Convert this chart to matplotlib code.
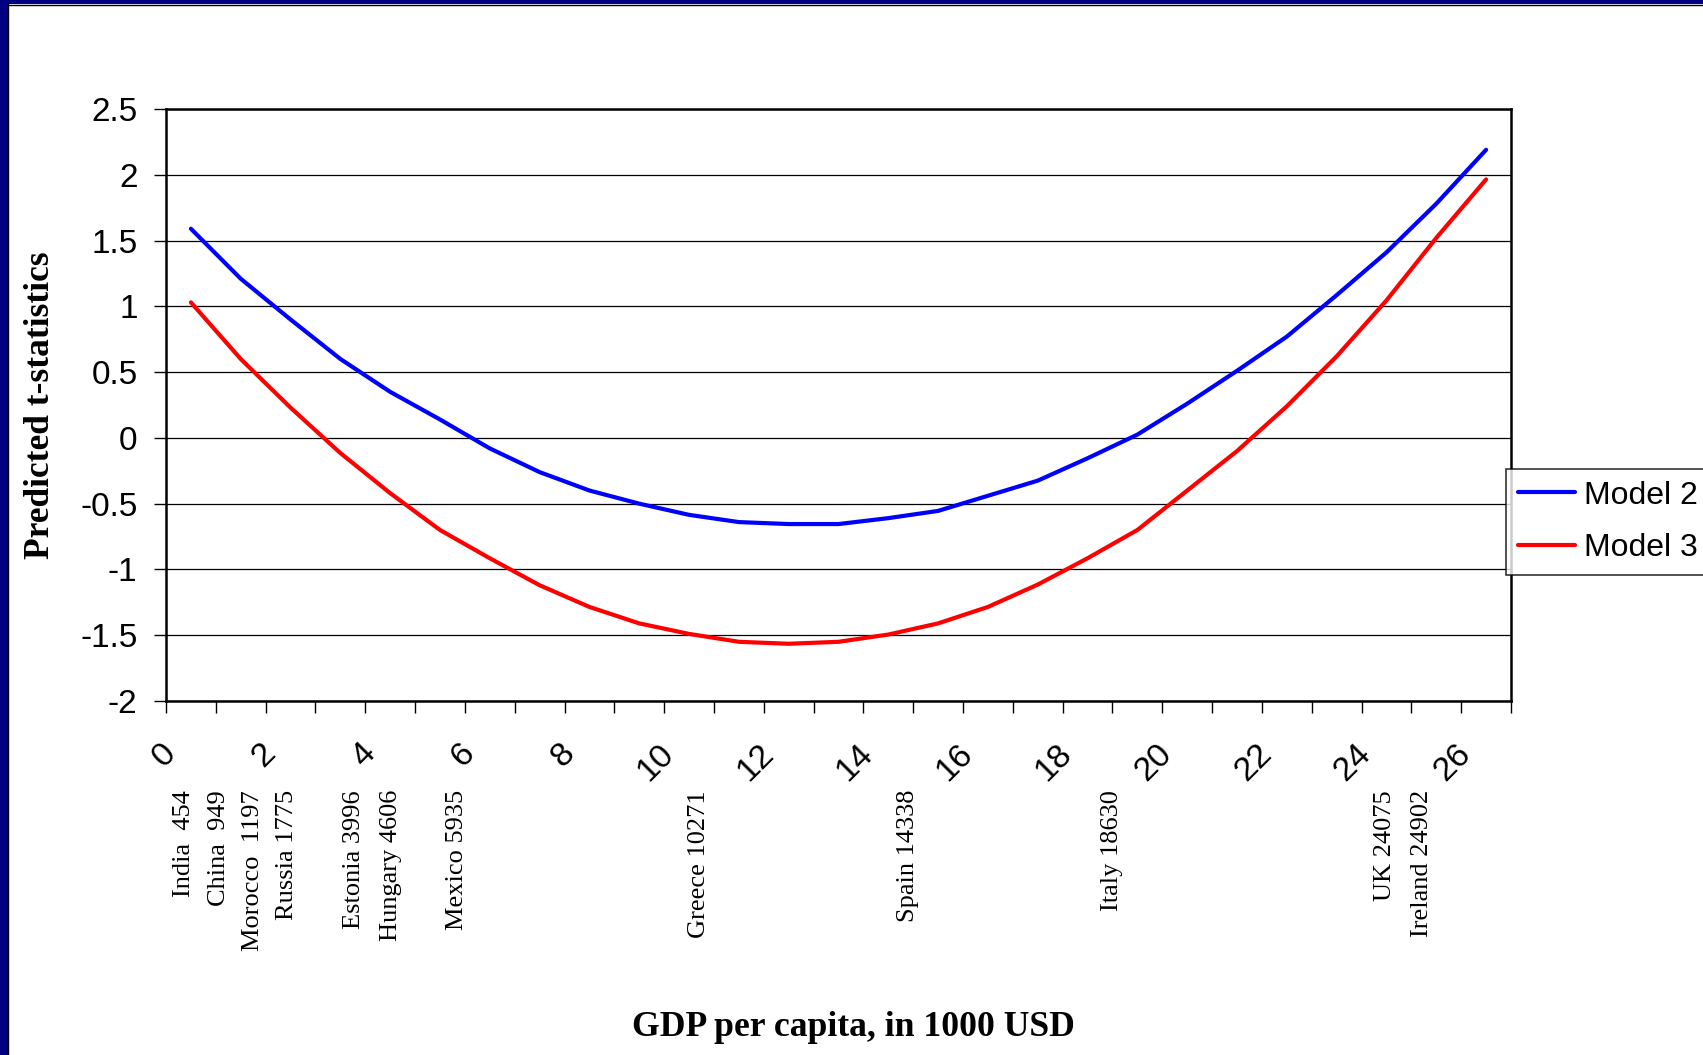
import matplotlib
matplotlib.use("Agg")
import matplotlib.pyplot as plt
from matplotlib.patches import Rectangle
from matplotlib.lines import Line2D
from matplotlib.transforms import ScaledTranslation, blended_transform_factory

plt.rcParams["axes.unicode_minus"] = False

# ---------------- data ----------------
gdp_thousands = list(range(27))  # category axis: GDP per capita, 1000 USD
model2 = [1.59, 1.21, 0.90, 0.60, 0.35, 0.14, -0.08, -0.26, -0.40, -0.50,
          -0.585, -0.64, -0.655, -0.655, -0.61, -0.555, -0.44, -0.325, -0.155, 0.025,
          0.26, 0.51, 0.77, 1.085, 1.41, 1.78, 2.19]
model3 = [1.03, 0.60, 0.23, -0.115, -0.42, -0.70, -0.915, -1.12, -1.285, -1.41,
          -1.49, -1.55, -1.565, -1.55, -1.495, -1.41, -1.285, -1.115, -0.915, -0.70,
          -0.40, -0.10, 0.24, 0.62, 1.045, 1.52, 1.965]
series_names = ["Model 2", "Model 3"]

x_label_positions = list(range(0, 27, 2))
x_tick_labels = [str(v) for v in x_label_positions]
y_ticks = [-2, -1.5, -1, -0.5, 0, 0.5, 1, 1.5, 2, 2.5]
y_tick_labels = ["-2", "-1.5", "-1", "-0.5", "0", "0.5", "1", "1.5", "2", "2.5"]

country_labels = ["India  454", "China  949", "Morocco  1197", "Russia 1775",
                  "Estonia 3996", "Hungary 4606", "Mexico 5935", "Greece 10271",
                  "Spain 14338", "Italy 18630", "UK 24075", "Ireland 24902"]
# horizontal placement of the annotation columns (layout, in axis units)
country_label_x = [-0.14, 0.56, 1.25, 1.93, 3.28, 4.01, 5.35, 10.19,
                   14.39, 18.50, 23.97, 24.72]

# ---------------- figure ----------------
W, H = 1703, 1055
fig = plt.figure(figsize=(W / 100, H / 100), dpi=100)
fig.patch.set_facecolor("white")

left, right, top, bottom = 166, 1511, 109, 701
ax = fig.add_axes([left / W, 1 - bottom / H, (right - left) / W, (bottom - top) / H])

l2, = ax.plot(gdp_thousands, model2, color="#0000FF", lw=3.0,
              solid_capstyle="round", solid_joinstyle="round", label=series_names[0], zorder=3)
l3, = ax.plot(gdp_thousands, model3, color="#FF0000", lw=3.0,
              solid_capstyle="round", solid_joinstyle="round", label=series_names[1], zorder=3)

ax.set_xlim(-0.5, 26.5)
ax.set_ylim(-2, 2.5)

# y axis
ax.set_yticks(y_ticks)
ax.set_yticklabels(y_tick_labels, family="Liberation Sans", fontsize=24)
ax.tick_params(axis="y", direction="out", length=8.5, width=1.0, pad=12, color="black")
ax.yaxis.grid(True, color="black", lw=0.9)
ax.set_axisbelow(True)

# x axis: tick marks at category boundaries, labels at every 2nd category
ax.set_xticks([b - 0.5 for b in range(28)])
ax.set_xticklabels([])
ax.tick_params(axis="x", which="major", direction="out", length=8.5, width=1.0, color="black")
ax.set_xticks(x_label_positions, minor=True)
ax.set_xticklabels(x_tick_labels, minor=True, family="Liberation Sans", fontsize=24.5)
ax.tick_params(axis="x", which="minor", length=0, pad=34.5)
offset = ScaledTranslation(-20 / 100, 0, fig.dpi_scale_trans)
for lbl in ax.get_xticklabels(minor=True):
    lbl.set_rotation(45)
    lbl.set_rotation_mode("anchor")
    lbl.set_ha("right")
    lbl.set_va("center")
    lbl.set_transform(lbl.get_transform() + offset)

for s in ax.spines.values():
    s.set_color("black")
    s.set_linewidth(1.8)

# country annotations under the axis
trans = blended_transform_factory(ax.transData, fig.transFigure)
for txt, xp in zip(country_labels, country_label_x):
    ax.text(xp, 1 - 790 / H, txt, transform=trans, rotation=90,
            ha="center", va="top", family="Liberation Serif", fontsize=19.0,
            clip_on=False)

# axis titles
fig.text(853 / W, 1 - 1027 / H, "GDP per capita, in 1000 USD", ha="center", va="center",
         family="Liberation Serif", fontweight="bold", fontsize=25.7)
fig.text(41 / W, 1 - 405 / H, "Predicted t-statistics", ha="center", va="center",
         rotation=90, family="Liberation Serif", fontweight="bold", fontsize=25.5)

# legend
leg = fig.legend(handles=[l2, l3], labels=series_names, loc="upper left",
                 bbox_to_anchor=(1506 / W, 1 - 469 / H), bbox_transform=fig.transFigure,
                 borderaxespad=0, frameon=True, fancybox=False, shadow=False,
                 prop={"family": "Liberation Sans", "size": 23},
                 handlelength=1.8, handletextpad=0.28, borderpad=0.36, labelspacing=0.72)
leg.get_frame().set_edgecolor("black")
leg.get_frame().set_linewidth(1.2)

# slide frame (navy band on left and top)
fig.patches.append(Rectangle((0, 0), 8 / W, 1, transform=fig.transFigure,
                             facecolor="#000080", edgecolor="none", zorder=10))
fig.patches.append(Rectangle((0, 1 - 4 / H), 1, 4 / H, transform=fig.transFigure,
                             facecolor="#000080", edgecolor="none", zorder=10))
fig.lines.append(Line2D([8 / W, 8 / W], [0, 1 - 4 / H], transform=fig.transFigure,
                        color="black", lw=1.0, zorder=11))
fig.lines.append(Line2D([8 / W, 1], [1 - 4.5 / H, 1 - 4.5 / H], transform=fig.transFigure,
                        color="black", lw=1.0, zorder=11))

fig.savefig("out.png", dpi=100, facecolor="white")
